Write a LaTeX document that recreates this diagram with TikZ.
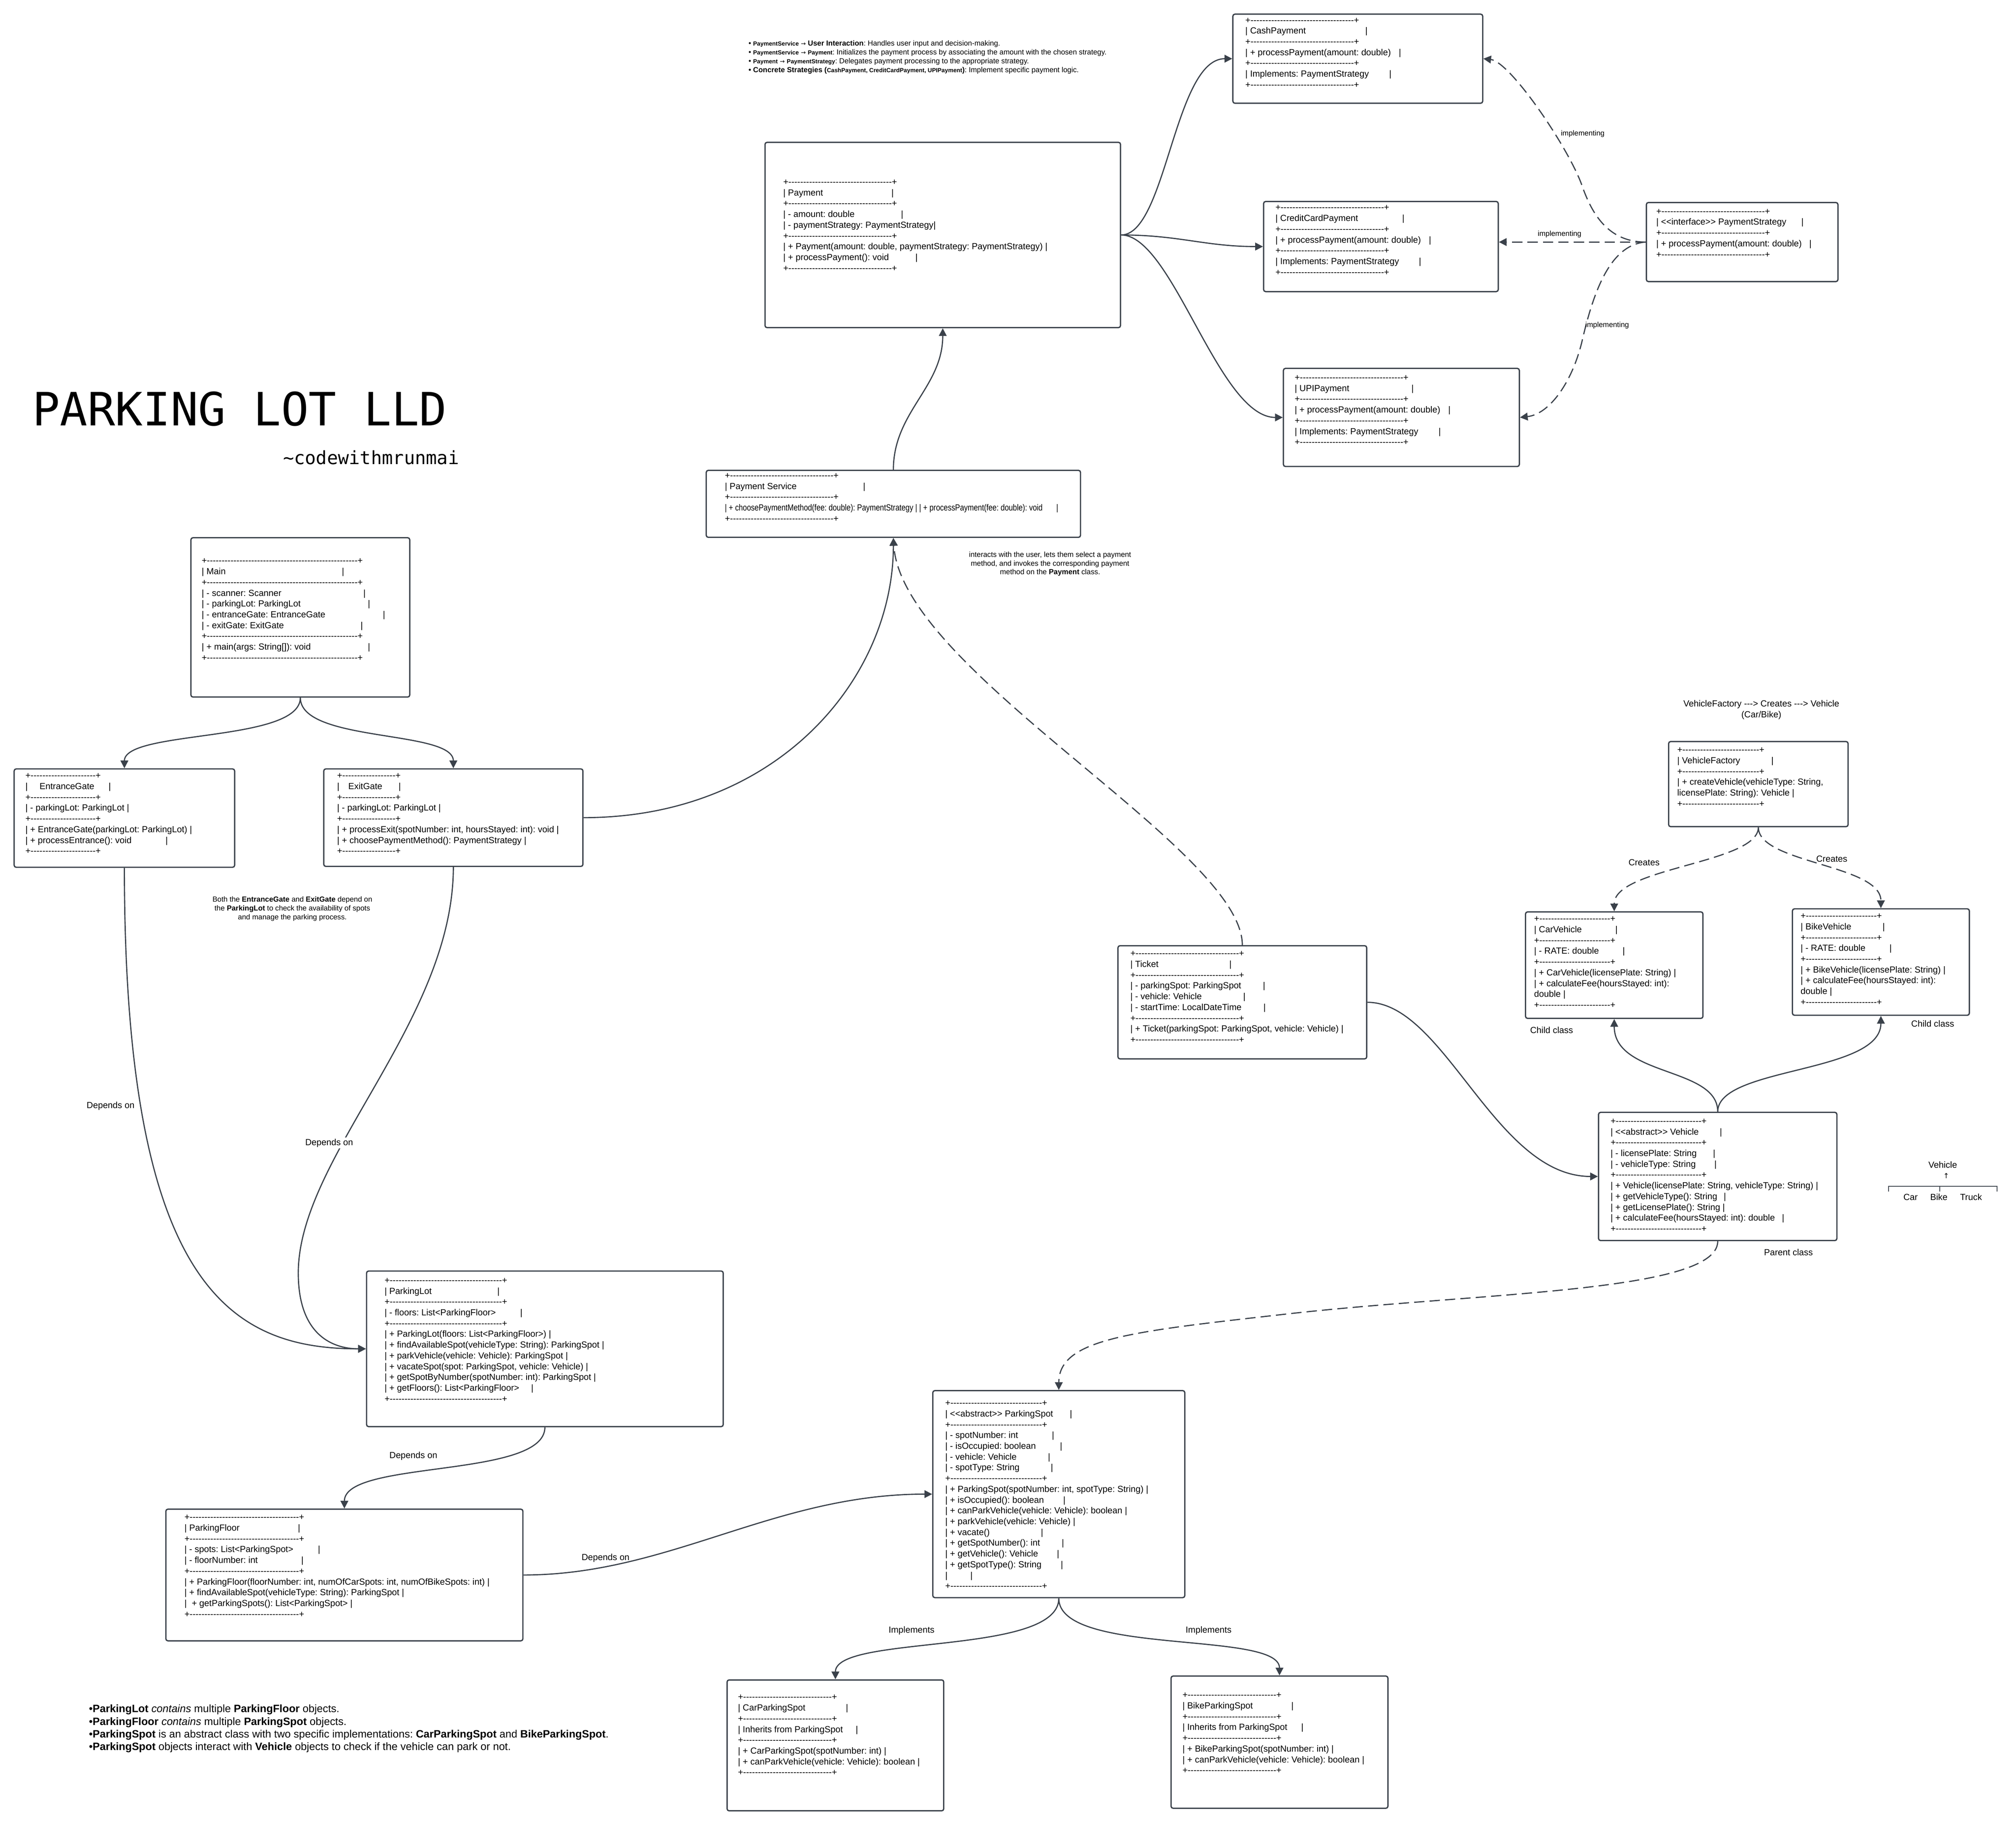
\documentclass[tikz,border=0pt]{standalone}
\usepackage{fontspec}
\setmainfont{Liberation Sans}
\newfontfamily\monoT{DejaVu Sans Mono}
\newfontfamily\djv{DejaVu Sans}
\usetikzlibrary{arrows.meta}
\frenchspacing
\definecolor{lc}{HTML}{3A414A}
\newcommand\cf{\fontsize{6.9}{8.38}\selectfont}
\newcommand\nf{\fontsize{5.7}{6.85}\selectfont}
\newcommand\lf{\fontsize{6.9}{8.4}\selectfont}
\newcommand\rbar[2]{\makebox[#1pt][l]{#2}|}
\ExplSyntaxOn
\cs_new:Npn \dlin #1 {+\prg_replicate:nn{#1}{\hbox{-}}+}
\ExplSyntaxOff
\newcommand\smb[1]{{\fontsize{4.6}{6.85}\selectfont\bfseries #1}}
\newcommand\sar{{\djv\fontsize{4.6}{6.85}\selectfont →}}
\newcommand\hy{\hbox{-}}
\newcommand\lguil{\hbox{<}\hbox{<}}
\newcommand\rguil{\hbox{>}\hbox{>}}
\tikzset{
  boxs/.style={draw=lc, line width=1pt, rounded corners=1.6pt, fill=white, inner sep=0pt, anchor=north west},
  cls/.style={font=\cf, align=left, inner sep=0pt, anchor=north west, text=black, execute at begin node=\strut},
  conn/.style={draw=lc, line width=0.9pt, -{Triangle[length=6pt,width=6pt]}},
  dconn/.style={conn, dash pattern=on 8pt off 4pt},
  lbl/.style={font=\lf, inner sep=1pt, text=black},
  nlbl/.style={font=\nf, inner sep=1pt, text=black},
}
\begin{document}
\begin{tikzpicture}[x=1pt,y=-1pt]
\useasboundingbox (0,0) rectangle (1568,1417.5);
\fill[white] (0,0) rectangle (1568,1417.5);

% ---------- boxes ----------
\node[boxs, minimum width=276.5pt, minimum height=144.1pt] (pay) at (594.5,110.2) {};
\node[boxs, minimum width=194.3pt, minimum height=69.3pt] (cash) at (958.4,10.5) {};
\node[boxs, minimum width=182.5pt, minimum height=70.1pt] (credit) at (982.3,156.2) {};
\node[boxs, minimum width=183.5pt, minimum height=76.3pt] (upi) at (997.7,286) {};
\node[boxs, minimum width=149pt, minimum height=61.5pt] (ps) at (1280,157) {};
\node[boxs, minimum width=291.1pt, minimum height=52.1pt] (psv) at (548.8,365.3) {};
\node[boxs, minimum width=170.2pt, minimum height=123.9pt] (main) at (148,417.7) {};
\node[boxs, minimum width=171.5pt, minimum height=76.5pt] (eg) at (10.5,597.5) {};
\node[boxs, minimum width=201.6pt, minimum height=75.8pt] (xg) at (251.3,597.5) {};
\node[boxs, minimum width=193.5pt, minimum height=88pt] (ticket) at (869,735) {};
\node[boxs, minimum width=139.6pt, minimum height=66.2pt] (vf) at (1297.3,576.2) {};
\node[boxs, minimum width=138pt, minimum height=82.8pt] (car) at (1186,708.7) {};
\node[boxs, minimum width=137.6pt, minimum height=82.8pt] (bike) at (1393.6,706.3) {};
\node[boxs, minimum width=185.4pt, minimum height=99.7pt] (veh) at (1242.8,864.6) {};
\node[boxs, minimum width=277.4pt, minimum height=121pt] (plot) at (284.6,988) {};
\node[boxs, minimum width=277.7pt, minimum height=102.4pt] (pfloor) at (128.5,1173.2) {};
\node[boxs, minimum width=196pt, minimum height=161pt] (pspot) at (725,1081) {};
\node[boxs, minimum width=168.5pt, minimum height=101.8pt] (cps) at (565,1306) {};
\node[boxs, minimum width=168.7pt, minimum height=102.8pt] (bps) at (910.3,1303) {};

% ---------- box texts ----------
\node[cls] (payT) at (609,139.6) {\dlin{35}\\ \rbar{84.1}{| Payment}\\ \dlin{35}\\ \rbar{91.6}{| - amount: double}\\ | - paymentStrategy: PaymentStrategy|\\ \dlin{35}\\ | + Payment(amount: double, paymentStrategy: PaymentStrategy) |\\ \rbar{102.8}{| + processPayment(): void}\\ \dlin{35}};

\node[cls] (cashT) at (968.4,13.7) {\dlin{35}\\ \rbar{93.3}{| CashPayment}\\ \dlin{35}\\ \rbar{119.4}{| + processPayment(amount: double)}\\ \dlin{35}\\ \rbar{111.9}{| Implements: PaymentStrategy}\\ \dlin{35}};

\node[cls] (creditT) at (991.8,159.5) {\dlin{35}\\ \rbar{98.6}{| CreditCardPayment}\\ \dlin{35}\\ \rbar{119.4}{| + processPayment(amount: double)}\\ \dlin{35}\\ \rbar{111.6}{| Implements: PaymentStrategy}\\ \dlin{35}};

\node[cls] (upiT) at (1006.8,291.7) {\dlin{35}\\ \rbar{90.8}{| UPIPayment}\\ \dlin{35}\\ \rbar{119.4}{| + processPayment(amount: double)}\\ \dlin{35}\\ \rbar{111.9}{| Implements: PaymentStrategy}\\ \dlin{35}};

\node[cls] (psT) at (1288,162.4) {\dlin{35}\\ \rbar{112.8}{| \lguil interface\rguil{} PaymentStrategy}\\ \dlin{35}\\ \rbar{119}{| + processPayment(amount: double)}\\ \dlin{35}};

\node[cls] (psvT) at (563.6,367.9) {\dlin{35}\\ \rbar{107.5}{| Payment Service}\\ \dlin{35}\\ {\addfontfeature{FakeStretch=0.825}\rbar{257.8}{| + choosePaymentMethod(fee: double): PaymentStrategy | | + processPayment(fee: double): void}}\\ \dlin{35}};

\node[cls] (mainT) at (156.7,434.2) {\dlin{51}\\ \rbar{109}{| Main}\\ \dlin{51}\\ \rbar{125.7}{| - scanner: Scanner}\\ \rbar{129.2}{| - parkingLot: ParkingLot}\\ \rbar{140.9}{| - entranceGate: EntranceGate}\\ \rbar{123.6}{| - exitGate: ExitGate}\\ \dlin{51}\\ \rbar{129.2}{| + main(args: String[]): void}\\ \dlin{51}};

\node[cls] (egT) at (19.6,601.3) {\dlin{22}\\ \rbar{64.7}{|\hspace{9.2pt}EntranceGate}\\ \dlin{22}\\ | - parkingLot: ParkingLot |\\ \dlin{22}\\ | + EntranceGate(parkingLot: ParkingLot) |\\ \rbar{109}{| + processEntrance(): void}\\ \dlin{22}};

\node[cls] (xgT) at (262,601.3) {\dlin{18}\\ \rbar{47.8}{|\hspace{6.9pt}ExitGate}\\ \dlin{18}\\ | - parkingLot: ParkingLot |\\ \dlin{18}\\ | + processExit(spotNumber: int, hoursStayed: int): void |\\ | + choosePaymentMethod(): PaymentStrategy |\\ \dlin{18}};

\node[cls] (ticketT) at (879,739.6) {\dlin{35}\\ \rbar{76.9}{| Ticket}\\ \dlin{35}\\ \rbar{103.1}{| - parkingSpot: ParkingSpot}\\ \rbar{87.7}{| - vehicle: Vehicle}\\ \rbar{103.5}{| - startTime: LocalDateTime}\\ \dlin{35}\\ | + Ticket(parkingSpot: ParkingSpot, vehicle: Vehicle) |\\ \dlin{35}};

\node[cls] (vfT) at (1304.3,581.2) {\dlin{26}\\ \rbar{73.2}{| VehicleFactory}\\ \dlin{26}\\ | + createVehicle(vehicleType: String,\\ licensePlate: String): Vehicle |\\ \dlin{26}};

\node[cls] (carT) at (1193,712.6) {\dlin{24}\\ \rbar{63.2}{| CarVehicle}\\ \dlin{24}\\ \rbar{68.8}{| - RATE: double}\\ \dlin{24}\\ | + CarVehicle(licensePlate: String) |\\ | + calculateFee(hoursStayed: int):\\ double |\\ \dlin{24}};

\node[cls] (bikeT) at (1400.3,710.4) {\dlin{24}\\ \rbar{63.7}{| BikeVehicle}\\ \dlin{24}\\ \rbar{69.1}{| - RATE: double}\\ \dlin{24}\\ | + BikeVehicle(licensePlate: String) |\\ | + calculateFee(hoursStayed: int):\\ double |\\ \dlin{24}};

\node[cls] (vehT) at (1252.5,869.9) {\dlin{29}\\ \rbar{84.9}{| \lguil abstract\rguil{} Vehicle}\\ \dlin{29}\\ \rbar{79.7}{| - licensePlate: String}\\ \rbar{80.7}{| - vehicleType: String}\\ \dlin{29}\\ | + Vehicle(licensePlate: String, vehicleType: String) |\\ \rbar{88}{| + getVehicleType(): String}\\ | + getLicensePlate(): String |\\ \rbar{133.3}{| + calculateFee(hoursStayed: int): double}\\ \dlin{29}};

\node[cls] (plotT) at (298.9,993.8) {\dlin{38}\\ \rbar{87.7}{| ParkingLot}\\ \dlin{38}\\ \rbar{105.5}{| - floors: List<ParkingFloor>}\\ \dlin{38}\\ | + ParkingLot(floors: List<ParkingFloor>) |\\ | + findAvailableSpot(vehicleType: String): ParkingSpot |\\ | + parkVehicle(vehicle: Vehicle): ParkingSpot |\\ | + vacateSpot(spot: ParkingSpot, vehicle: Vehicle) |\\ | + getSpotByNumber(spotNumber: int): ParkingSpot |\\ \rbar{114}{| + getFloors(): List<ParkingFloor>}\\ \dlin{38}};

\node[cls] (pfloorT) at (143.3,1178) {\dlin{37}\\ \rbar{88.2}{| ParkingFloor}\\ \dlin{37}\\ \rbar{103.8}{| - spots: List<ParkingSpot>}\\ \rbar{90.8}{| - floorNumber: int}\\ \dlin{37}\\ | + ParkingFloor(floorNumber: int, numOfCarSpots: int, numOfBikeSpots: int) |\\ | + findAvailableSpot(vehicleType: String): ParkingSpot |\\ |\ \ + getParkingSpots(): List<ParkingSpot> |\\ \dlin{37}};

\node[cls] (pspotT) at (735,1089.2) {\dlin{31}\\ \rbar{96.9}{| \lguil abstract\rguil{} ParkingSpot}\\ \dlin{31}\\ \rbar{82.9}{| - spotNumber: int}\\ \rbar{89.2}{| - isOccupied: boolean}\\ \rbar{79.9}{| - vehicle: Vehicle}\\ \rbar{82.1}{| - spotType: String}\\ \dlin{31}\\ | + ParkingSpot(spotNumber: int, spotType: String) |\\ \rbar{91.7}{| + isOccupied(): boolean}\\ | + canParkVehicle(vehicle: Vehicle): boolean |\\ | + parkVehicle(vehicle: Vehicle) |\\ \rbar{74.4}{| + vacate()}\\ \rbar{90.6}{| + getSpotNumber(): int}\\ \rbar{86.9}{| + getVehicle(): Vehicle}\\ \rbar{89.8}{| + getSpotType(): String}\\ \rbar{19.5}{|}\\ \dlin{31}};

\node[cls] (cpsT) at (573.8,1317.9) {\dlin{30}\\ \rbar{83.9}{| CarParkingSpot}\\ \dlin{30}\\ \rbar{91.6}{| Inherits from ParkingSpot}\\ \dlin{30}\\ | + CarParkingSpot(spotNumber: int) |\\ | + canParkVehicle(vehicle: Vehicle): boolean |\\ \dlin{30}};

\node[cls] (bpsT) at (919.5,1316.3) {\dlin{30}\\ \rbar{84.6}{| BikeParkingSpot}\\ \dlin{30}\\ \rbar{92.3}{| Inherits from ParkingSpot}\\ \dlin{30}\\ | + BikeParkingSpot(spotNumber: int) |\\ | + canParkVehicle(vehicle: Vehicle): boolean |\\ \dlin{30}};

% ---------- connectors ----------
\draw[conn] (psv.north) .. controls +(0,-45) and +(0,46) .. (pay.south);
\draw[conn] (xg.east) .. controls +(150,0) and +(0,110) .. (psv.south);
\draw[dconn] (ticket.north) .. controls +(0,-75) and +(6,103) .. (psv.south);
\draw[conn] (pay.east) .. controls +(35,0) and +(-45,0) .. (cash.west);
\draw[conn] (pay.east) .. controls +(45,0) and +(-45,0) .. (credit.west);
\draw[conn] (pay.east) .. controls +(40,0) and +(-50,0) .. (upi.west);
\draw[dconn] (ps.west) .. controls +(-30,0) and (1238,165) .. (1231,146) .. controls (1222,118) and (1175,48) .. (cash.east);
\draw[dconn] (ps.west) -- (ps.west -| credit.east);
\draw[dconn] (ps.west) .. controls +(-27,2) and (1240,225) .. (1231,263) .. controls (1224,295) and (1206,322) .. (upi.east);
\draw[conn] (main.south) .. controls +(0,35) and +(0,-30) .. (eg.north);
\draw[conn] (main.south) .. controls +(0,35) and +(0,-30) .. (xg.north);
\draw[conn] (eg.south) .. controls +(0,326) and +(-105,0) .. (plot.west);
\draw[conn] (xg.south) .. controls +(0,120) and (232,900) .. (232,990) .. controls (232,1040) and +(-24,0) .. (plot.west);
\draw[conn] (plot.south) .. controls +(0,40) and +(0,-38) .. (pfloor.north);
\draw[conn] (pfloor.east) .. controls +(113,0) and +(-123,0) .. (pspot.west);
\draw[conn] (pspot.south) .. controls +(0,45) and +(0,-35) .. (cps.north);
\draw[conn] (pspot.south) .. controls +(0,45) and +(0,-35) .. (bps.north);
\draw[conn] (ticket.east) .. controls +(60,0) and +(-80,0) .. (veh.west);
\draw[conn] (veh.north) .. controls +(0,-35) and +(0,45) .. (car.south);
\draw[conn] (veh.north) .. controls +(0,-35) and +(0,45) .. (bike.south);
\draw[dconn] (veh.south) .. controls +(0,40) and (1150,1005) .. (1000,1022) .. controls (880,1035.6) and +(0,-40) .. (pspot.north);
\draw[dconn] (vf.south) .. controls +(0,28) and +(0,-34) .. (car.north);
\draw[dconn] (vf.south) .. controls +(0,28) and +(0,-34) .. (bike.north);

% ---------- labels ----------
\node[nlbl] (im1) at (1231,104) {implementing};
\node[nlbl] (im2) at (1213,182) {implementing};
\node[nlbl] (im3) at (1250,253) {implementing};
\node[lbl] (cr1) at (1278.7,670.8) {Creates};
\node[lbl] (cr2) at (1424.7,667.9) {Creates};
\node[lbl] (ch1) at (1206.8,801.2) {Child class};
\node[lbl] (ch2) at (1503.2,796) {Child class};
\node[lbl] (par) at (1391,974) {Parent class};
\node[lbl, fill=white] (dp1) at (86,860) {Depends on};
\node[lbl, fill=white] (dp2) at (256,889) {Depends on};
\node[lbl] (dp3) at (321.5,1132.3) {Depends on};
\node[lbl] (dp4) at (471,1211.6) {Depends on};
\node[lbl] (ip1) at (709,1268) {Implements};
\node[lbl] (ip2) at (940,1268) {Implements};

% ---------- notes ----------
\node[cls, font=\nf] (topnotes) at (582,31.3) {•\ \smb{PaymentService} \sar{} \textbf{User Interaction}: Handles user input and decision-making.\\ •\ \smb{PaymentService} \sar{} \smb{Payment}: Initializes the payment process by associating the amount with the chosen strategy.\\ •\ \smb{Payment} \sar{} \smb{PaymentStrategy}: Delegates payment processing to the appropriate strategy.\\ {\bfseries •\ Concrete Strategies (}\smb{CashPayment, CreditCardPayment, UPIPayment}\textbf{)}: Implement specific payment logic.};

\node[font=\nf, align=center, inner sep=0pt, anchor=north, execute at begin node=\strut] (psvnote) at (816.7,428.8) {interacts with the user, lets them select a payment\\ method, and invokes the corresponding payment\\ method on the \textbf{Payment} class.};

\node[font=\nf, align=center, inner sep=0pt, anchor=north, execute at begin node=\strut] (gatenote) at (227.4,697.1) {Both the \textbf{EntranceGate} and \textbf{ExitGate} depend on\\ the \textbf{ParkingLot} to check the availability of spots\\ and manage the parking process.};

\node[font=\fontsize{6.9}{8.5}\selectfont, align=center, inner sep=0pt, anchor=north, execute at begin node=\strut] (vfnote) at (1369.9,544.5) {VehicleFactory \hy\hy\hy> Creates \hy\hy\hy> Vehicle\\ (Car/Bike)};

\node[cls, font=\fontsize{8.3}{9.8}\selectfont] (botnotes) at (69,1325.6) {•\textbf{ParkingLot} \textit{contains} multiple \textbf{ParkingFloor} objects.\\ •\textbf{ParkingFloor} \textit{contains} multiple \textbf{ParkingSpot} objects.\\ •\textbf{ParkingSpot} is an abstract class with two specific implementations: \textbf{CarParkingSpot} and \textbf{BikeParkingSpot}.\\ •\textbf{ParkingSpot} objects interact with \textbf{Vehicle} objects to check if the vehicle can park or not.};

% ---------- title ----------
\node[anchor=base west, inner sep=0pt, font=\monoT\fontsize{35.7}{40}\selectfont] (title) at (25,331) {PARKING LOT LLD};
\node[anchor=base west, inner sep=0pt, font=\monoT\fontsize{14.2}{16}\selectfont] (subtitle) at (220,361) {\textasciitilde codewithmrunmai};

% ---------- vehicle tree ----------
\node[lbl] (vtv) at (1511,905.9) {Vehicle};
\node[inner sep=0pt, font=\djv\fontsize{5.5}{6}\selectfont] (vta) at (1513.7,914.6) {↑};
\coordinate (bl) at (1469,926.8);
\coordinate (br) at (1553.2,926.8);
\coordinate (bm) at (1508.6,922.7);
\draw[lc, line width=0.6pt] (bl) |- (bm) -| (br);
\draw[lc, line width=0.6pt] (bm) -- (bm |- bl);
\node[lbl] (vtc) at (1486,931) {Car};
\node[lbl] (vtb) at (1508,931) {Bike};
\node[lbl] (vtt) at (1533,931) {Truck};
\end{tikzpicture}
\end{document}
